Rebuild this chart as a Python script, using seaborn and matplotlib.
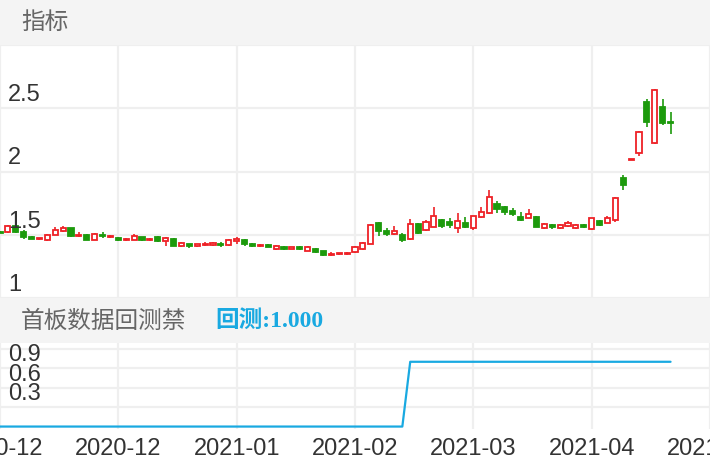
import numpy as np
import pandas as pd
import matplotlib
matplotlib.use("Agg")
import matplotlib.pyplot as plt
import matplotlib.transforms as mtransforms
from matplotlib.patches import Rectangle
import seaborn as sns

# daily candles
open_ = [1.525, 1.52, 1.57, 1.52, 1.485, 1.465, 1.455, 1.50, 1.53, 1.55,
         1.49, 1.50, 1.46, 1.50, 1.48, 1.475, 1.455, 1.46, 1.48, 1.455,
         1.48, 1.45, 1.47, 1.415, 1.425, 1.41, 1.42, 1.42, 1.43, 1.42,
         1.45, 1.46, 1.43, 1.41, 1.42, 1.385, 1.405, 1.39, 1.405, 1.375,
         1.39, 1.37, 1.34, 1.345, 1.345, 1.36, 1.39, 1.43, 1.59, 1.53,
         1.505, 1.50, 1.465, 1.585, 1.535, 1.565, 1.62, 1.60, 1.555, 1.595,
         1.55, 1.64, 1.67, 1.745, 1.72, 1.69, 1.64, 1.635, 1.64, 1.555,
         1.575, 1.555, 1.57, 1.555, 1.575, 1.545, 1.605, 1.595, 1.617, 1.945,
         2.09, 2.145, 2.55, 2.225, 2.51, 2.39]
close = [1.515, 1.57, 1.52, 1.48, 1.47, 1.47, 1.50, 1.535, 1.55, 1.49,
         1.50, 1.46, 1.505, 1.49, 1.49, 1.455, 1.47, 1.49, 1.455, 1.47,
         1.45, 1.475, 1.415, 1.435, 1.41, 1.425, 1.43, 1.435, 1.42, 1.46,
         1.465, 1.425, 1.41, 1.42, 1.405, 1.415, 1.385, 1.40, 1.385, 1.40,
         1.36, 1.34, 1.345, 1.35, 1.355, 1.40, 1.435, 1.58, 1.53, 1.505,
         1.53, 1.46, 1.585, 1.515, 1.60, 1.65, 1.57, 1.575, 1.61, 1.565,
         1.645, 1.68, 1.80, 1.705, 1.68, 1.665, 1.618, 1.665, 1.565, 1.585,
         1.56, 1.58, 1.59, 1.58, 1.56, 1.63, 1.58, 1.633, 1.79, 1.895,
         2.10, 2.315, 2.395, 2.645, 2.385, 2.38]
high = [1.53, 1.575, 1.595, 1.535, 1.49, 1.475, 1.505, 1.56, 1.57, 1.555,
        1.52, 1.505, 1.51, 1.52, 1.495, 1.48, 1.475, 1.505, 1.485, 1.475,
        1.49, 1.48, 1.475, 1.44, 1.43, 1.43, 1.445, 1.44, 1.44, 1.465,
        1.485, 1.465, 1.435, 1.425, 1.425, 1.42, 1.41, 1.405, 1.41, 1.415,
        1.395, 1.375, 1.36, 1.355, 1.36, 1.41, 1.44, 1.585, 1.60, 1.55,
        1.57, 1.51, 1.625, 1.59, 1.62, 1.72, 1.625, 1.63, 1.67, 1.64,
        1.65, 1.72, 1.85, 1.77, 1.725, 1.71, 1.68, 1.70, 1.645, 1.59,
        1.585, 1.585, 1.61, 1.585, 1.585, 1.635, 1.62, 1.65, 1.795, 1.97,
        2.10, 2.32, 2.57, 2.65, 2.575, 2.47]
low = [1.51, 1.515, 1.515, 1.465, 1.465, 1.46, 1.45, 1.495, 1.525, 1.485,
       1.485, 1.455, 1.455, 1.475, 1.475, 1.45, 1.45, 1.455, 1.45, 1.45,
       1.445, 1.41, 1.41, 1.405, 1.395, 1.405, 1.41, 1.415, 1.405, 1.415,
       1.43, 1.41, 1.405, 1.405, 1.40, 1.38, 1.38, 1.385, 1.38, 1.37,
       1.355, 1.33, 1.335, 1.34, 1.34, 1.355, 1.38, 1.425, 1.49, 1.49,
       1.50, 1.445, 1.46, 1.505, 1.53, 1.56, 1.555, 1.555, 1.51, 1.555,
       1.535, 1.635, 1.665, 1.675, 1.655, 1.645, 1.605, 1.63, 1.56, 1.545,
       1.545, 1.545, 1.565, 1.545, 1.555, 1.54, 1.57, 1.59, 1.60, 1.85,
       2.09, 2.12, 2.355, 2.22, 2.37, 2.295]

# 回测 indicator
backtest = [0, 0, 0, 0, 0, 0, 0, 0, 0, 0,
            0, 0, 0, 0, 0, 0, 0, 0, 0, 0,
            0, 0, 0, 0, 0, 0, 0, 0, 0, 0,
            0, 0, 0, 0, 0, 0, 0, 0, 0, 0,
            0, 0, 0, 0, 0, 0, 0, 0, 0, 0,
            0, 0, 1, 1, 1, 1, 1, 1, 1, 1,
            1, 1, 1, 1, 1, 1, 1, 1, 1, 1,
            1, 1, 1, 1, 1, 1, 1, 1, 1, 1,
            1, 1, 1, 1, 1, 1]

tick_pos = [0, 15, 30, 45, 60, 75, 90]
tick_labels = ["2020-12", "2020-12", "2021-01", "2021-02", "2021-03", "2021-04", "2021-05"]
price_ticks = [1, 1.5, 2, 2.5]
bt_ticks = [0.3, 0.6, 0.9]

RED = "#ee2126"
GREEN = "#1c9a0c"
BLUE = "#19a9e1"
GRID = "#efefef"
BAND = "#f4f4f4"

sns.set_style("white")
plt.rcParams['font.family'] = ['Liberation Sans', 'Noto Sans CJK SC', 'DejaVu Sans']

df = pd.DataFrame({"open": open_, "close": close, "high": high, "low": low, "bt": backtest})
df["idx"] = np.arange(len(df))
df["up"] = df["close"] >= df["open"]

W, H = 710, 472
fig = plt.figure(figsize=(7.1, 4.72), dpi=100)

def fy(py):
    return 1 - py / H

# header bands
fig.patches.append(Rectangle((0, fy(45)), 1, 45 / H, transform=fig.transFigure,
                             facecolor=BAND, edgecolor="none", zorder=0))
fig.patches.append(Rectangle((0, fy(343)), 1, 45 / H, transform=fig.transFigure,
                             facecolor=BAND, edgecolor="none", zorder=0))

ax = fig.add_axes([0, fy(298), 1, (298 - 45) / H])
ax2 = fig.add_axes([0, fy(428.5), 1, (428.5 - 343) / H])

for a in (ax, ax2):
    a.set_xlim(0, 90)
    a.set_xticks(tick_pos)
    for s in a.spines.values():
        s.set_visible(False)
    a.grid(True, color=GRID, linewidth=1.6)
    a.set_axisbelow(True)
    a.tick_params(length=0)

# candles
ax.set_ylim(1, 3)
ax.set_yticks([1, 1.5, 2, 2.5, 3])
ax.set_yticklabels([])
ax.set_xticklabels([])
colors = np.where(df["up"], RED, GREEN)
ax.vlines(df["idx"], df["low"], df["high"], colors=colors, linewidth=1.2, zorder=2)
body_lo = df[["open", "close"]].min(axis=1)
body_h = (df["close"] - df["open"]).abs().clip(lower=0.008)
ax.bar(df["idx"], body_h, bottom=body_lo, width=0.66,
       facecolor=np.where(df["up"], "white", GREEN), edgecolor=colors,
       linewidth=1.3, zorder=3)

# backtest line
sns.lineplot(data=df, x="idx", y="bt", ax=ax2, color=BLUE, linewidth=1.6)
ax2.set_ylim(-0.03, 1.29)
ax2.set_yticks([0.3, 0.6, 0.9, 1.2])
ax2.set_yticklabels([])
ax2.set_xlabel("")
ax2.set_ylabel("")
ax2.set_xticklabels(tick_labels, fontsize=17, color="#333333")
ax2.tick_params(axis="x", pad=7)

# value labels sitting above their grid lines
for a, vals in ((ax, price_ticks), (ax2, bt_ticks)):
    base = mtransforms.blended_transform_factory(a.transAxes, a.transData)
    tr = mtransforms.offset_copy(base, fig=fig, x=0, y=7, units="dots")
    for v in vals:
        a.text(8 / W, v, f"{v:g}", transform=tr, ha="left", va="baseline",
               fontsize=17, color="#333333", zorder=4)

fig.text(21 / W, fy(22), "指标", fontsize=17, color="#666666", va="center",
         family=['Noto Sans CJK SC'])
fig.text(21 / W, fy(321), "首板数据回测禁", fontsize=17, color="#666666", va="center",
         family=['Noto Sans CJK SC'])
fig.text(215 / W, fy(321), "回测:1.000", fontsize=17, color=BLUE, va="center",
         fontweight="bold", family=['Liberation Serif', 'Noto Sans CJK SC'])

fig.savefig("out.png", dpi=100)
